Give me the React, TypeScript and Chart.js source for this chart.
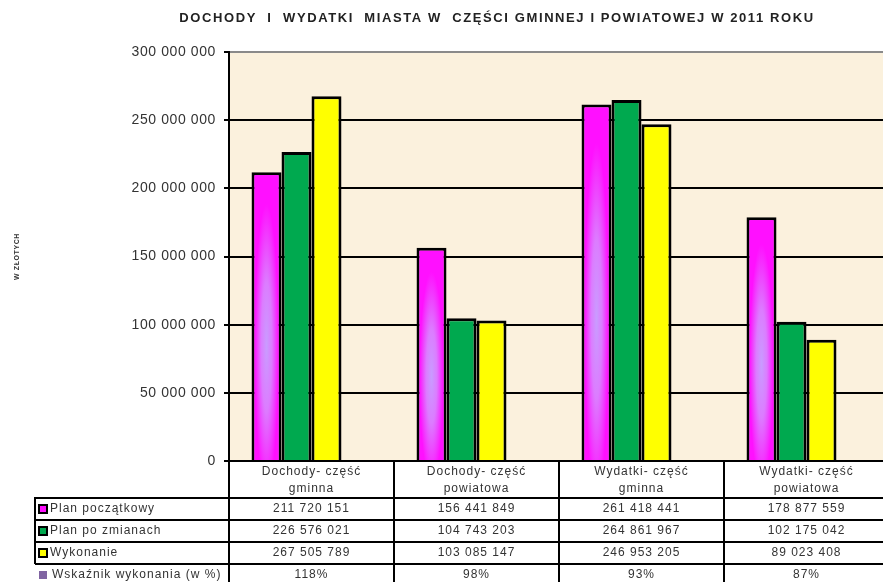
import React, { useEffect, useRef } from 'react';
import { Chart, registerables } from 'chart.js';

Chart.register(...registerables);

const TITLE = 'DOCHODY  I  WYDATKI  MIASTA W  CZĘŚCI GMINNEJ I POWIATOWEJ W 2011 ROKU';
const Y_TITLE = 'W ZŁOTYCH';
const CATEGORIES = [
  ['Dochody- część', 'gminna'],
  ['Dochody- część', 'powiatowa'],
  ['Wydatki- część', 'gminna'],
  ['Wydatki- część', 'powiatowa'],
];
const SERIES_NAMES = ['Plan początkowy', 'Plan po zmianach', 'Wykonanie', 'Wskaźnik wykonania (w %)'];
const PLAN_POCZATKOWY = [211720151, 156441849, 261418441, 178877559];
const PLAN_PO_ZMIANACH = [226576021, 104743203, 264861967, 102175042];
const WYKONANIE = [267505789, 103085147, 246953205, 89023408];
const WSKAZNIK = [118, 98, 93, 87];
const Y_MIN = 0;
const Y_MAX = 300000000;
const Y_STEP = 50000000;

const COLORS = ['#FF10FF', '#00A94F', '#FFFF00', '#8064A2'];
const FONT = '"Liberation Sans", Arial, sans-serif';
const TEXT = '#333333';
const BORDER = 3;

const fmt = (v: number) => String(v).replace(/\B(?=(\d{3})+(?!\d))/g, ' ');

const bgPlugin = {
  id: 'plotBg',
  beforeDraw(chart: any) {
    const { ctx, chartArea: a } = chart;
    ctx.save();
    ctx.fillStyle = '#FBF1DD';
    ctx.fillRect(a.left, a.top, a.right - a.left, a.bottom - a.top);
    ctx.restore();
    ctx.letterSpacing = '0.6px';
  },
};

const gradientPlugin = {
  id: 'magentaGradient',
  afterDatasetDraw(chart: any, args: any) {
    if (args.index !== 0) return;
    const ctx = chart.ctx;
    args.meta.data.forEach((el: any) => {
      const { x, y, base, width } = el.getProps(['x', 'y', 'base', 'width'], true);
      const left = x - width / 2 + BORDER;
      const right = x + width / 2 - BORDER;
      const top = Math.min(y, base) + BORDER;
      const bottom = Math.max(y, base);
      const h = bottom - top;
      if (h <= 0) return;
      const rx = (right - left) / 2;
      const ry = h * 0.5;
      const cx = (left + right) / 2;
      const cy = top + h * 0.6;
      ctx.save();
      ctx.beginPath();
      ctx.rect(left, top, right - left, h);
      ctx.clip();
      ctx.fillStyle = '#FF10FF';
      ctx.fillRect(left, top, right - left, h);
      ctx.translate(cx, cy);
      ctx.scale(1, ry / rx);
      const g = ctx.createRadialGradient(0, 0, 0, 0, 0, rx);
      g.addColorStop(0, '#C99CFF');
      g.addColorStop(0.45, '#DC7CFF');
      g.addColorStop(1, 'rgba(255,16,255,1)');
      ctx.fillStyle = g;
      ctx.fillRect(-rx, -rx * 1.2, rx * 2, rx * 2.4);
      ctx.restore();
    });
  },
};

const tablePlugin = {
  id: 'dataTable',
  afterDraw(chart: any) {
    const { ctx, chartArea: a } = chart;
    const x = chart.scales.x;
    const n = CATEGORIES.length;
    const colW = (a.right - a.left) / n;
    const headTop = a.bottom;
    const headBot = a.bottom + 37;
    const rowH = 22;
    const labelLeft = 35;
    const datasets = chart.data.datasets;
    const tableBottom = headBot + rowH * datasets.length;

    ctx.save();
    ctx.strokeStyle = '#000';
    ctx.lineWidth = 2;
    ctx.beginPath();
    for (let i = 0; i <= n; i++) {
      const bx = i < n ? x.getPixelForValue(i) - colW / 2 : x.getPixelForValue(n - 1) + colW / 2;
      ctx.moveTo(bx, headTop);
      ctx.lineTo(bx, tableBottom);
    }
    ctx.moveTo(a.left, headTop);
    ctx.lineTo(a.right, headTop);
    for (let r = 0; r <= datasets.length; r++) {
      const yy = headBot + r * rowH;
      ctx.moveTo(labelLeft, yy);
      ctx.lineTo(a.right, yy);
    }
    ctx.moveTo(labelLeft, headBot - 1);
    ctx.lineTo(labelLeft, headBot + rowH * (datasets.length - 1));
    ctx.stroke();

    ctx.fillStyle = TEXT;
    ctx.font = '12px ' + FONT;
    ctx.letterSpacing = '1px';
    ctx.textBaseline = 'middle';
    ctx.textAlign = 'center';
    CATEGORIES.forEach((lines, i) => {
      const cx = x.getPixelForValue(i);
      lines.forEach((ln, k) => ctx.fillText(ln, cx, headTop + 11 + k * 17));
    });

    datasets.forEach((ds: any, r: number) => {
      const cy = headBot + r * rowH + rowH / 2;
      ctx.fillStyle = TEXT;
      ctx.textAlign = 'center';
      ds.data.forEach((v: number, i: number) => {
        ctx.fillText(r === 3 ? v + '%' : fmt(v), x.getPixelForValue(i), cy);
      });
      if (r < 3) {
        ctx.fillStyle = '#000';
        ctx.fillRect(38, cy - 5, 10, 10);
        ctx.fillStyle = COLORS[r];
        ctx.fillRect(40, cy - 3, 6, 6);
        ctx.fillStyle = TEXT;
        ctx.textAlign = 'left';
        ctx.fillText(ds.label, 50, cy);
      } else {
        ctx.fillStyle = COLORS[r];
        ctx.fillRect(39, cy - 4, 8, 8);
        ctx.fillStyle = TEXT;
        ctx.textAlign = 'left';
        ctx.fillText(ds.label, 52, cy);
      }
    });

    // title
    ctx.fillStyle = '#222';
    ctx.font = 'bold 13px ' + FONT;
    ctx.letterSpacing = '1.6px';
    ctx.textAlign = 'center';
    ctx.textBaseline = 'middle';
    ctx.fillText(TITLE, 497, 18);
    ctx.restore();
  },
};

export default function App() {
  const ref = useRef<HTMLCanvasElement | null>(null);

  useEffect(() => {
    if (!ref.current) return;
    const datasets = [PLAN_POCZATKOWY, PLAN_PO_ZMIANACH, WYKONANIE, WSKAZNIK].map((data, i) => ({
      label: SERIES_NAMES[i],
      data,
      backgroundColor: COLORS[i],
      borderColor: '#000',
      borderWidth: i < 3 ? BORDER : 0,
      categoryPercentage: 0.727,
      barPercentage: 1,
    }));
    const chart = new Chart(ref.current, {
      type: 'bar',
      data: { labels: CATEGORIES.map((c) => c.join(' ')), datasets },
      options: {
        responsive: false,
        animation: false,
        devicePixelRatio: 1,
        layout: { padding: { top: 52, bottom: 121, left: 0, right: 3 } },
        plugins: {
          legend: { display: false },
          tooltip: { enabled: false },
          title: { display: false },
        },
        scales: {
          x: { display: false },
          y: {
            min: Y_MIN,
            max: Y_MAX,
            afterFit: (scale: any) => {
              scale.width = 229;
            },
            ticks: {
              stepSize: Y_STEP,
              padding: 8,
              color: TEXT,
              font: { size: 14, family: FONT },
              callback: (v: any) => fmt(Number(v)),
            },
            grid: {
              color: (c: any) => (c.tick && c.tick.value === Y_MAX ? '#8a8a8a' : '#000'),
              lineWidth: 2,
              tickLength: 5,
              tickColor: '#000',
              tickWidth: 2,
            },
            border: { display: true, color: '#000', width: 2 },
            title: {
              display: true,
              text: Y_TITLE,
              color: TEXT,
              font: { size: 7, weight: 'bold', family: FONT },
              padding: { top: 13, bottom: 0 },
            },
          },
        },
      },
      plugins: [bgPlugin, gradientPlugin, tablePlugin],
    });
    return () => chart.destroy();
  }, []);

  return (
    <div style={{ position: 'fixed', left: 0, top: 0, width: 883, height: 582, overflow: 'hidden', background: '#fff' }}>
      <canvas ref={ref} width={892} height={582} style={{ display: 'block' }} />
    </div>
  );
}
